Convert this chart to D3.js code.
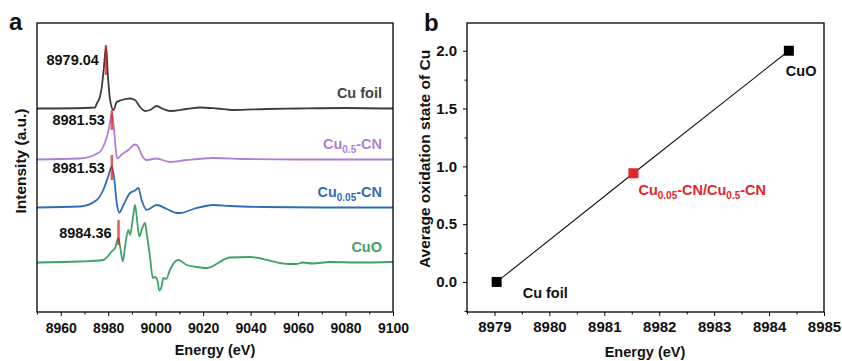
<!DOCTYPE html>
<html><head><meta charset="utf-8">
<script src="https://cdn.jsdelivr.net/npm/d3@7"></script>
<style>
body{margin:0;background:#fff;}
svg{display:block;font-family:"Liberation Sans",Arial,sans-serif;font-weight:bold;}
</style></head>
<body><svg id="c" width="842" height="361"></svg>
<script>
// ---------- Panel a data ----------
const seriesNames = ["Cu foil", "Cu0.5-CN", "Cu0.05-CN", "CuO"];
const seriesColors = ["#3c3c3c", "#b07fd6", "#2f6cb8", "#3ea26a"];
const seriesOffsets = [4.07, 3.05, 2.09, 0.99];
const peakEnergies = [8979.04, 8981.53, 8981.53, 8984.36];
const peakLabels = ["8979.04", "8981.53", "8981.53", "8984.36"];
const markerTop = [1.27, 0.99, 1.05, 0.85];
const markerBottom = [0.67, 0.59, 0.55, 0.35];

const cuFoilE = [8950,8970,8974.4,8975.2,8976.5,8977.3,8978.2,8979.1,8979.8,8980.8,8982.2,8983.6,8985.7,8989.2,8991.3,8993.4,8995.5,8997.6,9000.4,9003.2,9006,9013.1,9018.7,9025.7,9032.6,9046.8,9060,9080,9100];
const cuFoilI = [0,0.01,0.02,0.10,0.23,0.43,0.83,1.23,0.71,0.17,-0.03,0.13,0.17,0.20,0.17,0.03,-0.05,-0.03,0.05,-0.01,-0.05,-0.01,0.02,0.0,-0.03,-0.01,0,0.01,0];

const cu05E = [8950,8968.1,8976.5,8978.7,8980.0,8981.2,8981.6,8982.4,8983.3,8983.8,8985.7,8988.5,8991.3,8992.7,8994.1,8996.2,9000.4,9006.0,9013.1,9024.2,9038.4,9060,9080,9100];
const cu05I = [0,0.02,0.15,0.35,0.55,0.85,0.92,0.63,0.15,0.02,0.10,0.19,0.30,0.25,0.09,-0.01,0.02,-0.05,-0.01,0.03,0.01,0,0,0];

const cu005E = [8950,8968.1,8975.2,8977.9,8980.0,8981.5,8982.6,8983.6,8984.7,8986.4,8989.2,8991.3,8992.7,8994.1,8996.2,9000.4,9004.7,9008.9,9010.3,9015.9,9024.3,9031.3,9045.4,9070,9100];
const cu005I = [0,0.02,0.15,0.35,0.62,0.82,0.55,0.09,-0.10,0.05,0.29,0.34,0.39,0.15,-0.05,0.05,-0.03,-0.11,-0.11,-0.03,0.05,0.03,0.01,0,0];

const cuoE = [8950,8968.1,8977.9,8981.5,8982.9,8984.3,8985.0,8986.2,8987.1,8988.5,8989.2,8990.3,8991.3,8992.0,8993.1,8994.1,8995.5,8996.2,8997.6,8998.8,8999.7,9000.7,9001.5,9002.5,9003.2,9004.4,9006.0,9008.2,9009.5,9013.1,9017.3,9021.5,9031.3,9039.8,9052.4,9056,9059.4,9062,9066,9073.5,9085,9100];
const cuoI = [0,0.02,0.05,0.22,0.29,0.49,0.32,0.02,0.32,0.65,0.55,0.85,1.15,0.92,0.52,0.65,0.79,0.59,0.12,-0.31,-0.29,-0.35,-0.56,-0.48,-0.31,-0.33,-0.15,0.02,0.05,-0.05,-0.09,-0.11,0.10,0.11,-0.01,-0.03,-0.03,0.0,-0.02,0.01,0.0,0.01];

const seriesE = [cuFoilE, cu05E, cu005E, cuoE];
const seriesI = [cuFoilI, cu05I, cu005I, cuoI];
const xTicksA = [8960, 8980, 9000, 9020, 9040, 9060, 9080, 9100];

// ---------- Panel b data ----------
const bEnergy = [8979.04, 8981.53, 8984.36];
const bOxidation = [0, 0.94, 2.0];
const bColors = ["#000000", "#e3262a", "#000000"];
const bLabels = ["Cu foil", "Cu0.05-CN/Cu0.5-CN", "CuO"];
const xTicksB = [8979, 8980, 8981, 8982, 8983, 8984, 8985];
const yTicksB = [0.0, 0.5, 1.0, 1.5, 2.0];

const svg = d3.select("#c");

function richText(sel, txt) {
  const parts = [];
  const re = /Cu(0\.\d+)/g;
  let last = 0, m;
  while ((m = re.exec(txt)) !== null) {
    parts.push({t: txt.slice(last, m.index) + "Cu", sub: false});
    parts.push({t: m[1], sub: true});
    last = m.index + m[0].length;
  }
  parts.push({t: txt.slice(last), sub: false});
  let wasSub = false;
  parts.forEach(p => {
    if (!p.t) return;
    const ts = sel.append("tspan").text(p.t);
    if (p.sub) { ts.attr("font-size", "10px").attr("dy", 4); wasSub = true; }
    else if (wasSub) { ts.attr("dy", -4); wasSub = false; }
  });
}

// ================= Panel a =================
const xA = d3.scaleLinear([8950, 9100], [37, 393]);
const yA = d3.scaleLinear([0, 5.78], [312, 23]);
const gA = svg.append("g");

const line = d3.line().curve(d3.curveMonotoneX);
seriesE.forEach((E, k) => {
  const pts = E.map((e, i) => [xA(e), yA(seriesOffsets[k] + seriesI[k][i])]);
  gA.append("path").attr("d", line(pts)).attr("fill", "none")
    .attr("stroke", seriesColors[k]).attr("stroke-width", 1.8).attr("stroke-linejoin", "round");
});
peakEnergies.forEach((e, k) => {
  gA.append("line")
    .attr("x1", xA(e)).attr("x2", xA(e))
    .attr("y1", yA(seriesOffsets[k] + markerTop[k]))
    .attr("y2", yA(seriesOffsets[k] + markerBottom[k]))
    .attr("stroke", "#d81818").attr("stroke-opacity", 0.7).attr("stroke-width", 2.5);
  const cy = (yA(seriesOffsets[k] + markerTop[k]) + yA(seriesOffsets[k] + markerBottom[k])) / 2;
  gA.append("text").attr("x", xA(e) - 7).attr("y", cy).attr("dy", "0.35em")
    .attr("text-anchor", "end").attr("font-size", "14.5px").attr("fill", "#111").text(peakLabels[k]);
});
seriesNames.forEach((n, k) => {
  const t = gA.append("text").attr("x", xA(9100) - 11).attr("y", yA(seriesOffsets[k]) - 16)
    .attr("dy", "0.35em").attr("text-anchor", "end").attr("font-size", "14.5px")
    .attr("fill", k === 0 ? "#444" : seriesColors[k]);
  richText(t, n);
});

const axA = gA.append("g").attr("transform", "translate(0,312)")
  .call(d3.axisBottom(xA).tickValues(xTicksA).tickSize(4).tickPadding(7).tickFormat(d3.format("d")));
axA.select(".domain").remove();
axA.selectAll("text").attr("font-size", "14px").attr("font-family", null).attr("fill", "#111");
gA.append("g").attr("transform", "translate(0,312)")
  .call(d3.axisBottom(xA).tickValues(d3.range(8950, 9101, 10).filter(v => !xTicksA.includes(v))).tickSize(2.5).tickFormat(""))
  .select(".domain").remove();
gA.append("rect").attr("x", 37).attr("y", 23).attr("width", 356).attr("height", 289)
  .attr("fill", "none").attr("stroke", "#000").attr("stroke-width", 1.3);
gA.append("text").attr("x", 215).attr("y", 355).attr("text-anchor", "middle")
  .attr("font-size", "14.5px").attr("fill", "#111").text("Energy (eV)");
gA.append("text").attr("transform", "translate(26,161) rotate(-90)").attr("text-anchor", "middle")
  .attr("font-size", "15.5px").attr("fill", "#111").text("Intensity (a.u.)");
gA.append("text").attr("x", 9).attr("y", 30).attr("font-size", "24px").attr("fill", "#111").text("a");

// ================= Panel b =================
const xB = d3.scaleLinear([8978.5, 8985], [467, 824]);
const yB = d3.scaleLinear([-0.26, 2.24], [312, 23]);
const gB = svg.append("g");

const axBx = gB.append("g").attr("transform", "translate(0,312)")
  .call(d3.axisBottom(xB).tickValues(xTicksB).tickSize(4).tickPadding(5).tickFormat(d3.format("d")));
axBx.select(".domain").remove();
axBx.selectAll("text").attr("font-size", "15px").attr("font-family", null).attr("fill", "#111");
gB.append("g").attr("transform", "translate(0,312)")
  .call(d3.axisBottom(xB).tickValues(d3.range(8978.5, 8985, 1)).tickSize(2.5).tickFormat(""))
  .select(".domain").remove();
const axBy = gB.append("g").attr("transform", "translate(467,0)")
  .call(d3.axisLeft(yB).tickValues(yTicksB).tickSize(4).tickPadding(6).tickFormat(d3.format(".1f")));
axBy.select(".domain").remove();
axBy.selectAll("text").attr("font-size", "15px").attr("font-family", null).attr("fill", "#111");
gB.append("g").attr("transform", "translate(467,0)")
  .call(d3.axisLeft(yB).tickValues([-0.25, 0.25, 0.75, 1.25, 1.75].filter(v => v >= -0.26 && v <= 2.24)).tickSize(2.5).tickFormat(""))
  .select(".domain").remove();
gB.append("rect").attr("x", 467).attr("y", 23).attr("width", 357).attr("height", 289)
  .attr("fill", "none").attr("stroke", "#000").attr("stroke-width", 1.3);

gB.append("path").attr("d", d3.line()(bEnergy.map((e, i) => [xB(e), yB(bOxidation[i])])))
  .attr("fill", "none").attr("stroke", "#111").attr("stroke-width", 1.1);
bEnergy.forEach((e, i) => {
  gB.append("rect").attr("x", xB(e) - 5).attr("y", yB(bOxidation[i]) - 5)
    .attr("width", 10).attr("height", 10).attr("fill", bColors[i]);
});
const lb0 = gB.append("text").attr("x", xB(bEnergy[0]) + 26).attr("y", yB(bOxidation[0]) + 11)
  .attr("dy", "0.35em").attr("font-size", "14.5px").attr("fill", "#111");
richText(lb0, bLabels[0]);
const lb1 = gB.append("text").attr("x", xB(bEnergy[1]) + 5).attr("y", yB(bOxidation[1]) + 17)
  .attr("dy", "0.35em").attr("font-size", "14.5px").attr("fill", "#e3262a");
richText(lb1, bLabels[1]);
const lb2 = gB.append("text").attr("x", xB(bEnergy[2]) - 3).attr("y", yB(bOxidation[2]) + 20)
  .attr("dy", "0.35em").attr("font-size", "14.5px").attr("fill", "#111");
richText(lb2, bLabels[2]);

gB.append("text").attr("x", 645).attr("y", 357).attr("text-anchor", "middle")
  .attr("font-size", "14.5px").attr("fill", "#111").text("Energy (eV)");
gB.append("text").attr("transform", "translate(430,159) rotate(-90)").attr("text-anchor", "middle")
  .attr("font-size", "15.5px").attr("fill", "#111").text("Average oxidation state of Cu");
gB.append("text").attr("x", 424).attr("y", 31).attr("font-size", "24px").attr("fill", "#111").text("b");
</script></body></html>
